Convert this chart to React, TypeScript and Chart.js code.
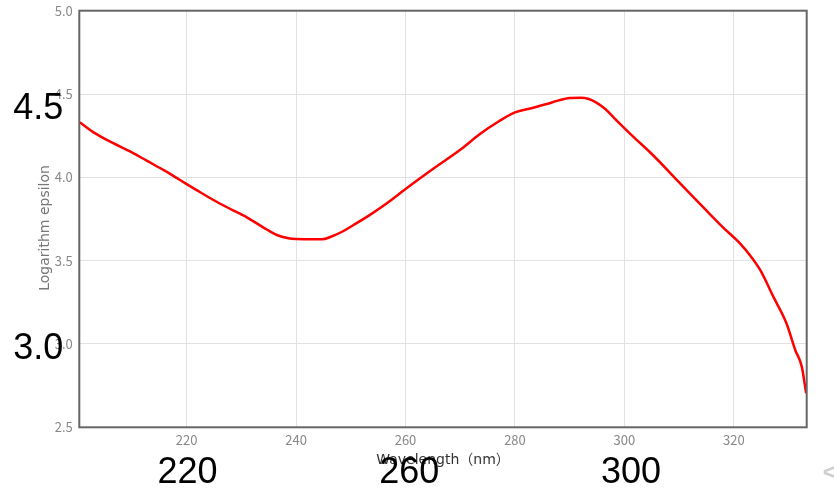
import { useEffect, useRef } from "react";
import { Chart, registerables } from "chart.js";

Chart.register(...registerables);

// UV spectrum: wavelength (nm) vs log epsilon
const wavelengths = [
  200.5, 203, 206.6, 210, 212.7, 216, 218.8, 222, 224.9, 228, 231, 234, 236.5, 238.6, 240, 242,
  244.7, 246.5, 248.5, 250.5, 253.5, 256.6, 260, 265, 270, 273.6, 277, 280, 283, 285.8, 288,
  290, 292, 293.5, 294.8, 296.5, 298, 301.6, 305, 310, 315, 318, 321.1, 323, 324.8, 327.2,
  329.6, 331.2, 332.4, 333.2,
];
const logEpsilon = [
  4.33, 4.27, 4.205, 4.15, 4.1, 4.04, 3.984, 3.92, 3.864, 3.81, 3.76, 3.7, 3.654, 3.635, 3.63,
  3.629, 3.628, 3.645, 3.675, 3.714, 3.775, 3.845, 3.93, 4.05, 4.165, 4.26, 4.335, 4.39, 4.415,
  4.44, 4.462, 4.476, 4.478, 4.47, 4.45, 4.41, 4.36, 4.244, 4.14, 3.97, 3.8, 3.7, 3.604, 3.53,
  3.444, 3.284, 3.124, 2.964, 2.864, 2.704,
];
const xTickValues = [220, 240, 260, 280, 300, 320];
const yTickValues = [2.5, 3.0, 3.5, 4.0, 4.5, 5.0];
const bigYLabels = [4.5, 3.0];
const bigXLabels = [220, 260, 300];

const FONT = "'Noto Sans CJK JP', 'Noto Sans', sans-serif";
const TITLE_FONT = "'DejaVu Sans', 'Noto Sans CJK JP', sans-serif";

export default function App() {
  const ref = useRef<HTMLCanvasElement>(null);

  useEffect(() => {
    document.body.style.margin = "0";
    const canvas = ref.current;
    if (!canvas) return;

    const overlay = {
      id: "overlay",
      afterDraw(chart: any) {
        const { ctx, chartArea: a, scales } = chart;
        ctx.save();
        // plot frame
        ctx.strokeStyle = "#666";
        ctx.lineWidth = 2;
        ctx.strokeRect(a.left, a.top, a.right - a.left, a.bottom - a.top);
        // large overlaid labels
        ctx.fillStyle = "#000";
        ctx.font = "36px 'Liberation Sans', Arial, sans-serif";
        ctx.textBaseline = "middle";
        ctx.textAlign = "right";
        for (const v of bigYLabels) {
          ctx.fillText(v.toFixed(1), a.left - 16, scales.yBig.getPixelForValue(v));
        }
        ctx.textAlign = "center";
        for (const v of bigXLabels) {
          ctx.fillText(String(v), scales.xBig.getPixelForValue(v), a.bottom + 46);
        }
        // faint chevron at bottom right
        ctx.fillStyle = "#cfcfcf";
        ctx.font = "bold 24px 'Liberation Sans', Arial, sans-serif";
        ctx.textAlign = "left";
        ctx.fillText("<", a.right + 16, a.bottom + 46);
        ctx.restore();
      },
    };

    const chart = new Chart(canvas, {
      type: "line",
      data: {
        datasets: [
          {
            data: wavelengths.map((x, i) => ({ x, y: logEpsilon[i] })),
            borderColor: "#ff0000",
            borderWidth: 2.5,
            pointRadius: 0,
            cubicInterpolationMode: "monotone",
            fill: false,
            xAxisID: "x",
            yAxisID: "y",
          },
        ],
      },
      options: {
        animation: false,
        responsive: false,
        layout: { padding: { top: 10.7, right: 27.3, left: 0, bottom: 0 } },
        plugins: { legend: { display: false }, tooltip: { enabled: false } },
        scales: {
          x: {
            type: "linear",
            position: "bottom",
            min: 200.4,
            max: 333.3,
            afterBuildTicks: (s: any) => {
              s.ticks = xTickValues.map((value) => ({ value }));
            },
            afterFit: (s: any) => {
              s.height = 61.7;
              s.paddingLeft = 0;
              s.paddingRight = 0;
            },
            grid: { color: "#e2e2e2", drawTicks: false },
            border: { display: false },
            ticks: {
              color: "#888",
              font: { size: 13, family: FONT },
              padding: 5,
              maxRotation: 0,
              autoSkip: false,
              callback: (v: any) => String(v),
            },
            title: {
              display: true,
              text: "Wavelength（nm）",
              color: "#333",
              font: { size: 14, family: TITLE_FONT },
              padding: { top: 0, bottom: 20.6 },
            },
          },
          y: {
            type: "linear",
            position: "left",
            min: 2.5,
            max: 5.0,
            afterBuildTicks: (s: any) => {
              s.ticks = yTickValues.map((value) => ({ value }));
            },
            afterFit: (s: any) => {
              s.width = 79.3;
              s.paddingTop = 0;
              s.paddingBottom = 0;
            },
            grid: { color: "#e2e2e2", drawTicks: false },
            border: { display: false },
            ticks: {
              color: "#888",
              font: { size: 13, family: FONT },
              padding: 6.5,
              autoSkip: false,
              callback: (v: any) => Number(v).toFixed(1),
            },
            title: {
              display: true,
              text: "Logarithm epsilon    ",
              color: "#777",
              font: { size: 14, family: TITLE_FONT },
              padding: { top: 36.6, bottom: 0 },
            },
          },
          yBig: { type: "linear", display: false, min: 2.511, max: 5.115 },
          xBig: { type: "linear", display: false, min: 200.48, max: 331.7 },
        },
      },
      plugins: [overlay],
    } as any);

    return () => chart.destroy();
  }, []);

  return (
    <div style={{ position: "absolute", left: 0, top: 0, width: 834, height: 489 }}>
      <canvas ref={ref} width={834} height={489} />
    </div>
  );
}
